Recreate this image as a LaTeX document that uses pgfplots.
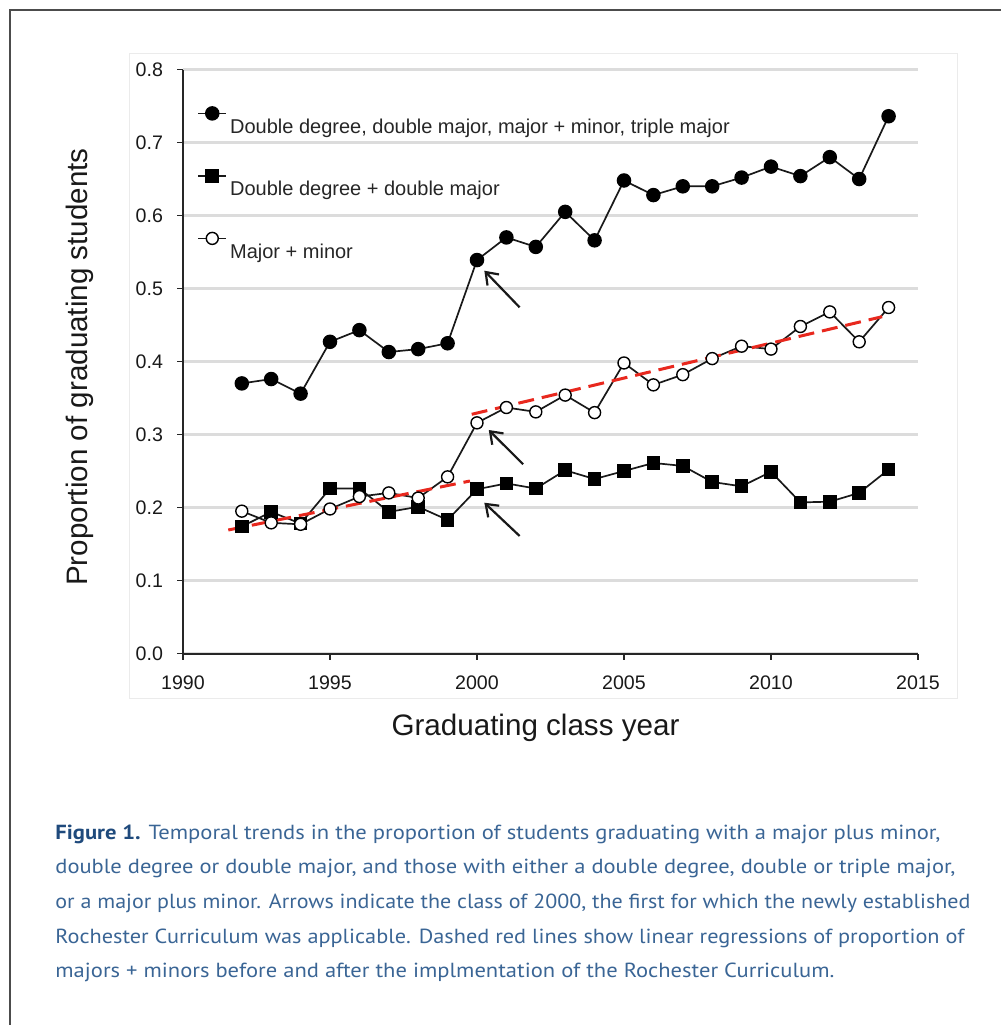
\documentclass[border=0pt]{standalone}
\usepackage{graphicx}
\usepackage{fontspec}
\setmainfont{Liberation Sans}
\newfontfamily\capfont{PT Sans}
\usepackage{xcolor}
\usepackage{pgfplots}
\pgfplotsset{compat=1.18}
\usetikzlibrary{arrows.meta}
\definecolor{capbold}{HTML}{1F4A7C}
\definecolor{captext}{HTML}{3A6595}
\definecolor{regred}{HTML}{E8281E}
\definecolor{gridgray}{HTML}{DCDCDC}

\begin{document}
\begin{tikzpicture}[x=0.5pt,y=-0.5pt]
\useasboundingbox (0,0) rectangle (1001,1025);
\draw[black!70, line width=0.75pt] (1001,10) -- (10,10) -- (10,1025);
\draw[black!8, line width=0.5pt] (129,53) rectangle (957,698);
\begin{axis}[
  at={(91.5pt,-326.75pt)}, anchor=south west,
  scale only axis, width=367.5pt, height=292pt,
  xmin=1990, xmax=2015, ymin=0, ymax=0.8,
  axis x line=bottom, axis y line=left,
  axis line style={-, line width=1pt, black!85},
  xtick={1990,1995,2000,2005,2010,2015},
  ytick={0,0.1,0.2,0.3,0.4,0.5,0.6,0.7,0.8},
  tick align=outside, major tick length=3pt,
  tick style={black!85, line width=0.8pt},
  minor tick num=0,
  /pgf/number format/assume math mode=true,
  xticklabel style={yshift=-4.5pt, /pgf/number format/1000 sep={}},
  yticklabel style={xshift=-3.5pt, /pgf/number format/.cd, fixed, fixed zerofill, precision=1},
  tick label style={font=\fontsize{9.8}{11}\selectfont, text=black!90},
  ymajorgrids, grid style={gridgray, line width=1.5pt},
  legend style={draw=none, fill=none, inner sep=0pt,
    at={(axis cs:1990.477,0.7336)}, anchor=north west,
    row sep=21.25pt, column sep=0.5pt,
    nodes={inner sep=0pt, text height=7.5pt, text depth=2.5pt,
      font=\fontsize{10}{12}\selectfont, text=black!85}},
  legend cell align=left,
  legend image code/.code={\path (0pt,0pt) (15pt,0pt);
    \draw[overlay, mark repeat=2, mark phase=2, #1] plot coordinates {(0pt,7.5pt) (7pt,7.5pt) (14pt,7.5pt)};},
]
\addplot[black!90, line width=0.85pt, mark=*, mark size=3.2pt, mark options={solid, fill=black, draw=black}] coordinates {
(1992,0.370) (1993,0.376) (1994,0.356) (1995,0.427) (1996,0.443) (1997,0.413)
(1998,0.417) (1999,0.425) (2000,0.539) (2001,0.570) (2002,0.557) (2003,0.605)
(2004,0.566) (2005,0.648) (2006,0.628) (2007,0.640) (2008,0.640) (2009,0.652)
(2010,0.667) (2011,0.654) (2012,0.680) (2013,0.650) (2014,0.736)};
\addlegendentry{Double degree, double major, major + minor, triple major}
\addplot[black!90, line width=0.85pt, mark=square*, mark size=3pt, mark options={solid, fill=black, draw=black}] coordinates {
(1992,0.174) (1993,0.194) (1994,0.178) (1995,0.226) (1996,0.226) (1997,0.194)
(1998,0.201) (1999,0.183) (2000,0.225) (2001,0.233) (2002,0.226) (2003,0.251)
(2004,0.239) (2005,0.250) (2006,0.261) (2007,0.257) (2008,0.235) (2009,0.229)
(2010,0.249) (2011,0.207) (2012,0.208) (2013,0.220) (2014,0.252)};
\addlegendentry{Double degree + double major}
\addplot[black!90, line width=0.85pt, mark=*, mark size=3pt, mark options={solid, fill=white, draw=black, line width=0.7pt}] coordinates {
(1992,0.195) (1993,0.179) (1994,0.177) (1995,0.198) (1996,0.215) (1997,0.220)
(1998,0.213) (1999,0.242) (2000,0.316) (2001,0.337) (2002,0.331) (2003,0.354)
(2004,0.330) (2005,0.398) (2006,0.368) (2007,0.382) (2008,0.404) (2009,0.421)
(2010,0.417) (2011,0.448) (2012,0.468) (2013,0.427) (2014,0.474)};
\addlegendentry{Major + minor}
\addplot[regred, line width=1.5pt, dash pattern=on 8pt off 4pt, forget plot] coordinates {(1991.54,0.1692) (1999.76,0.2363)};
\addplot[regred, line width=1.5pt, dash pattern=on 8pt off 4pt, forget plot] coordinates {(1999.82,0.3277) (2013.78,0.4614)};
\draw[-{Straight Barb[length=5.5pt,width=8pt,line width=1.1pt]}, line width=1.1pt, black!90] (axis cs:2001.45,0.4742) -- (axis cs:2000.25,0.5244);
\draw[-{Straight Barb[length=5.5pt,width=8pt,line width=1.1pt]}, line width=1.1pt, black!90] (axis cs:2001.57,0.2592) -- (axis cs:2000.40,0.3062);
\draw[-{Straight Barb[length=5.5pt,width=8pt,line width=1.1pt]}, line width=1.1pt, black!90] (axis cs:2001.45,0.1610) -- (axis cs:2000.25,0.2066);
\end{axis}
\node[rotate=90, anchor=base, inner sep=0pt, text=black!90] at (87,367) {\fontsize{14.8}{16}\selectfont Proportion of graduating students};
\node[anchor=base, inner sep=0pt, text=black!90] at (535.5,735) {\fontsize{14.8}{16}\selectfont Graduating class year};
\begin{scope}[every node/.style={anchor=base west, inner sep=0pt, text=captext}]
\node at (55,839) {\capfont\fontsize{10.2}{12}\selectfont\resizebox{442.5pt}{\height}{\textcolor{capbold}{\bfseries Figure 1.} Temporal trends in the proportion of students graduating with a major plus minor,}};
\node at (55,873.7) {\capfont\fontsize{10.2}{12}\selectfont\resizebox{450pt}{\height}{double degree or double major, and those with either a double degree, double or triple major,}};
\node at (55,908.4) {\capfont\fontsize{10.2}{12}\selectfont\resizebox{457.5pt}{\height}{or a major plus minor. Arrows indicate the class of 2000, the first for which the newly established}};
\node at (55,943.1) {\capfont\fontsize{10.2}{12}\selectfont\resizebox{454.5pt}{\height}{Rochester Curriculum was applicable. Dashed red lines show linear regressions of proportion of}};
\node at (55,977.8) {\capfont\fontsize{10.2}{12}\selectfont\resizebox{389.5pt}{\height}{majors + minors before and after the implmentation of the Rochester Curriculum.}};
\end{scope}
\end{tikzpicture}
\end{document}
